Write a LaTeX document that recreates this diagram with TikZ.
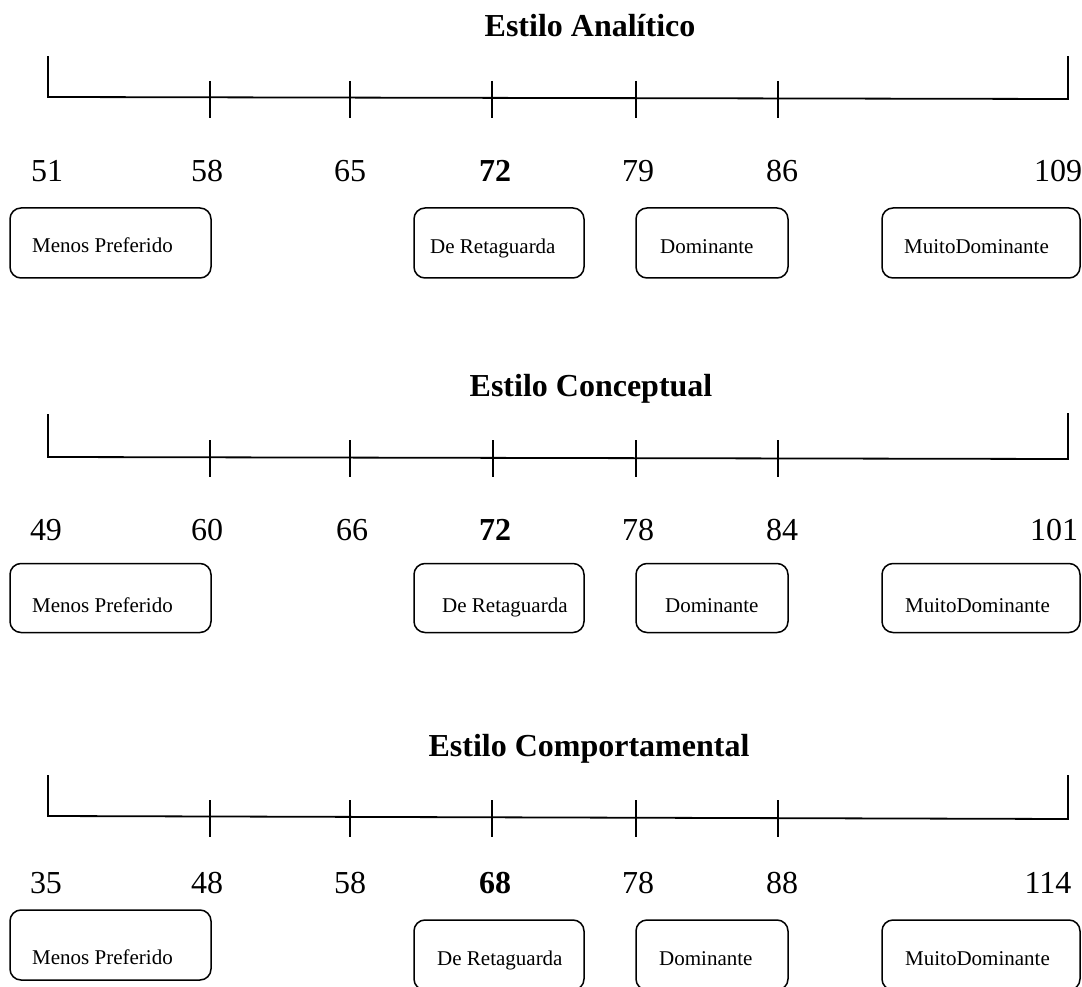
\documentclass[tikz,border=0pt]{standalone}
\usepackage{fontspec}
\setmainfont{Liberation Serif}
\begin{document}
\begin{tikzpicture}[x=1pt,y=-1pt,
  scaleline/.style={line width=1.8pt, line cap=rect},
  tickline/.style={line width=1.6pt},
  title/.style={font=\fontsize{32}{38}\selectfont\bfseries, anchor=base, inner sep=0pt},
  num/.style={font=\fontsize{32}{38}\selectfont, anchor=base, inner sep=0pt},
  bnum/.style={num, font=\fontsize{32}{38}\selectfont\bfseries},
  catbox/.style={draw, line width=1.5pt, rounded corners=11pt, minimum height=70pt, inner sep=0pt},
  cattext/.style={font=\fontsize{21}{25}\selectfont, anchor=base west, inner sep=0pt}
]
\useasboundingbox (0,0) rectangle (1082,987);

% ---------------- Row 1 ----------------
\node[title] (t1) at (590,37) {Estilo Analítico};
\coordinate (l1a) at (48,57);
\coordinate (l1b) at (48,97);
\coordinate (l1c) at (1068,99);
\coordinate (l1d) at (1068,57);
\draw[scaleline] (l1a) -- (l1b) -- (l1c) -- (l1d);
\foreach \x in {210,350,492,636,778}{
  \draw[tickline] (\x,81) -- (\x,118);
}
\node[num] (n1a) at (47,182) {51};
\node[num] (n1b) at (207,182) {58};
\node[num] (n1c) at (350,182) {65};
\node[bnum] (n1d) at (495,182) {72};
\node[num] (n1e) at (638,182) {79};
\node[num] (n1f) at (782,182) {86};
\node[num] (n1g) at (1058,182) {109};
\node[catbox, minimum width=201pt, minimum height=70pt] (b1a) at (110.5,243) {};
\node[catbox, minimum width=170pt] (b1b) at (499,243) {};
\node[catbox, minimum width=152pt] (b1c) at (712,243) {};
\node[catbox, minimum width=198pt] (b1d) at (981,243) {};
\node[cattext] (c1a) at (32,253) {Menos Preferido};
\node[cattext] (c1b) at (430,254) {De Retaguarda};
\node[cattext] (c1c) at (660,254) {Dominante};
\node[cattext] (c1d) at (904,254) {MuitoDominante};

% ---------------- Row 2 ----------------
\node[title] (t2) at (591,396) {Estilo Conceptual};
\coordinate (l2a) at (48,415);
\coordinate (l2b) at (48,457);
\coordinate (l2c) at (1068,459);
\coordinate (l2d) at (1068,414);
\draw[scaleline] (l2a) -- (l2b) -- (l2c) -- (l2d);
\foreach \x in {210,350,493,636,778}{
  \draw[tickline] (\x,440) -- (\x,477);
}
\node[num] (n2a) at (46,540) {49};
\node[num] (n2b) at (207,540) {60};
\node[num] (n2c) at (352,540) {66};
\node[bnum] (n2d) at (495,540) {72};
\node[num] (n2e) at (638,540) {78};
\node[num] (n2f) at (782,540) {84};
\node[num] (n2g) at (1054,540) {101};
\node[catbox, minimum width=201pt, minimum height=69pt] (b2a) at (110.5,598) {};
\node[catbox, minimum width=170pt, minimum height=69pt] (b2b) at (499,598) {};
\node[catbox, minimum width=152pt, minimum height=69pt] (b2c) at (712,598) {};
\node[catbox, minimum width=198pt, minimum height=69pt] (b2d) at (981,598) {};
\node[cattext] (c2a) at (32,612) {Menos Preferido};
\node[cattext] (c2b) at (442,612) {De Retaguarda};
\node[cattext] (c2c) at (665,612) {Dominante};
\node[cattext] (c2d) at (905,612) {MuitoDominante};

% ---------------- Row 3 ----------------
\node[title] (t3) at (589,756) {Estilo Comportamental};
\coordinate (l3a) at (48,776);
\coordinate (l3b) at (48,816);
\coordinate (l3c) at (1068,819);
\coordinate (l3d) at (1068,776);
\draw[scaleline] (l3a) -- (l3b) -- (l3c) -- (l3d);
\foreach \x in {210,350,492,636,778}{
  \draw[tickline] (\x,800) -- (\x,837);
}
\node[num] (n3a) at (46,893) {35};
\node[num] (n3b) at (207,893) {48};
\node[num] (n3c) at (350,893) {58};
\node[bnum] (n3d) at (495,893) {68};
\node[num] (n3e) at (638,893) {78};
\node[num] (n3f) at (782,893) {88};
\node[num] (n3g) at (1048,893) {114};
\node[catbox, minimum width=201pt, minimum height=70pt] (b3a) at (110.5,945) {};
\node[catbox, minimum width=170pt] (b3b) at (499,955) {};
\node[catbox, minimum width=152pt] (b3c) at (712,955) {};
\node[catbox, minimum width=198pt] (b3d) at (981,955) {};
\node[cattext] (c3a) at (32,964) {Menos Preferido};
\node[cattext] (c3b) at (437,965) {De Retaguarda};
\node[cattext] (c3c) at (659,965) {Dominante};
\node[cattext] (c3d) at (905,965) {MuitoDominante};
\end{tikzpicture}
\end{document}
